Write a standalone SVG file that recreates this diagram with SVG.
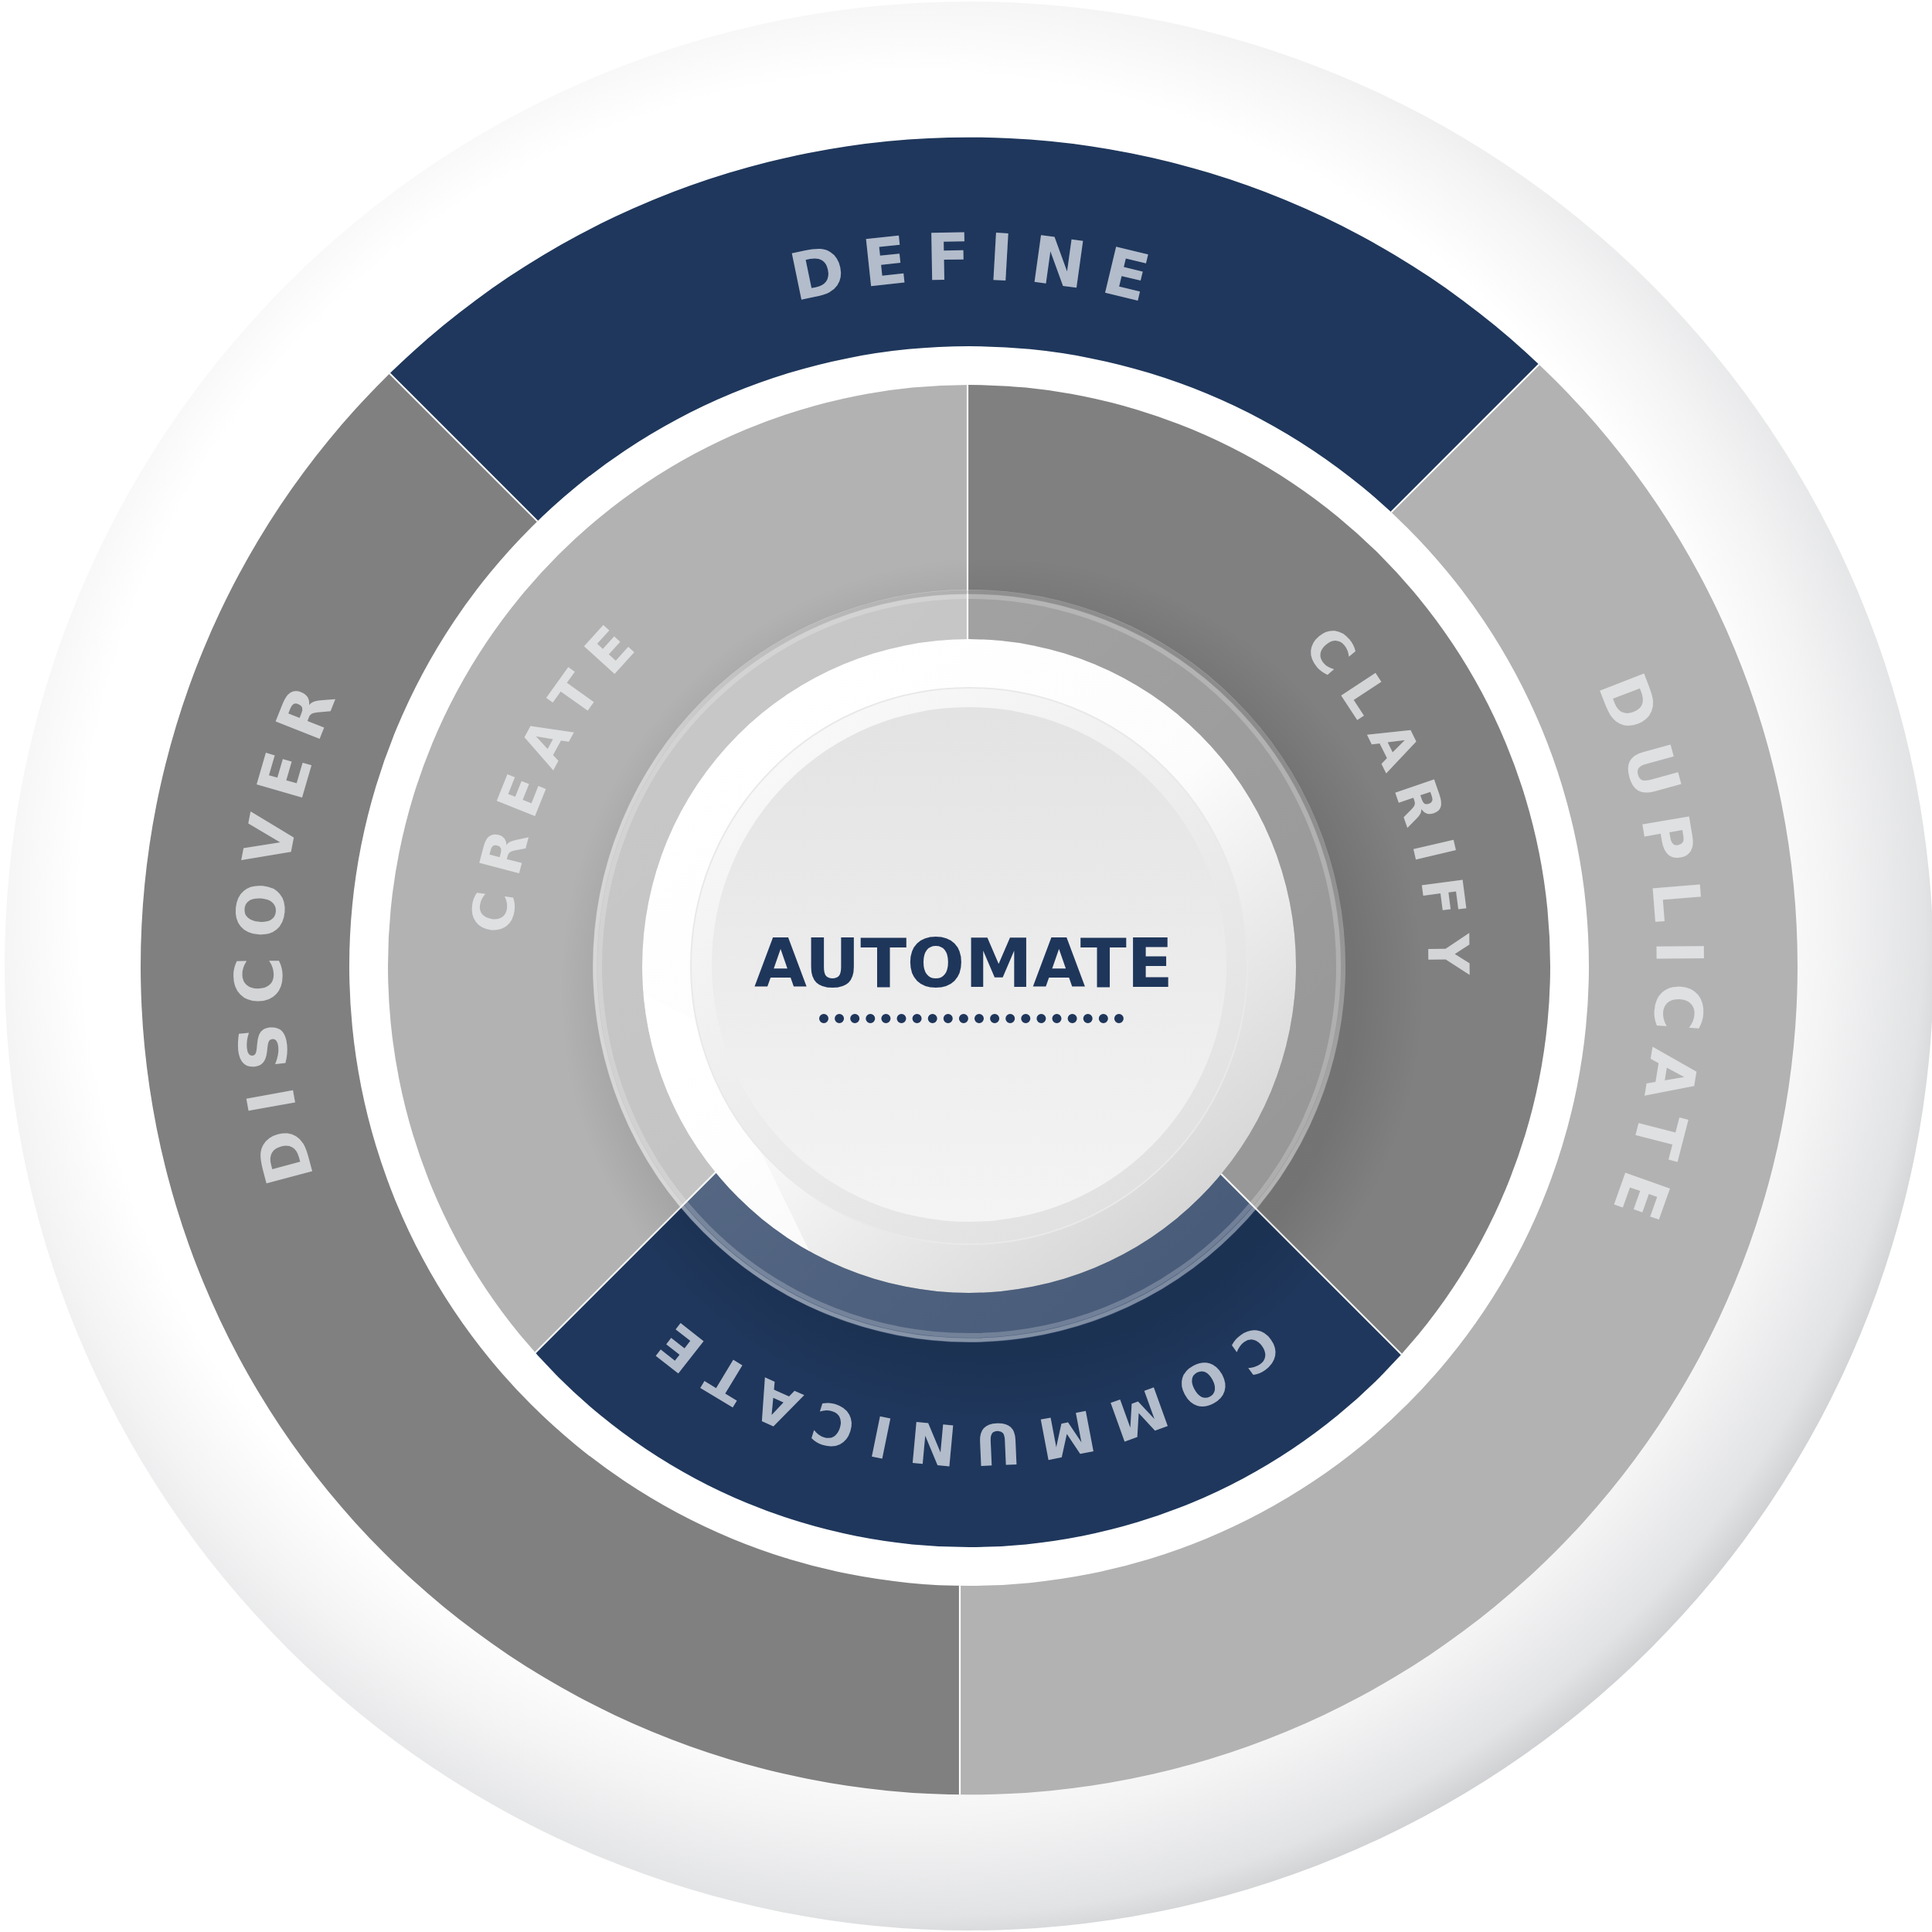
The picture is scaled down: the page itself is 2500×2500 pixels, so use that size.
<svg xmlns="http://www.w3.org/2000/svg" width="2500" height="2500" viewBox="0 0 2500 2500">
  <defs>
    <style>
      .lbl { font-family: "DejaVu Sans", "Open Sans", sans-serif; font-weight: 700; }
      .outer { font-size: 84px; letter-spacing: 22px; }
      .mid { font-size: 73px; letter-spacing: 20.5px; }
      .navy { fill: #1f375c; }
      .dark { fill: #808080; }
      .light { fill: #b2b2b2; }
      .t-navy { fill: #b3bccb; }
      .t-dark { fill: #d3d5d7; }
      .t-light { fill: #dfe0e2; }
      .divider { stroke: #ffffff; stroke-width: 2.2; fill: none; }
    </style>
    <radialGradient id="discGrad" gradientUnits="userSpaceOnUse" cx="1180" cy="1170" r="1380">
      <stop offset="0" stop-color="#ffffff"/>
      <stop offset="0.78" stop-color="#ffffff"/>
      <stop offset="0.86" stop-color="#f4f4f5"/>
      <stop offset="0.95" stop-color="#e2e3e4"/>
      <stop offset="1" stop-color="#c6c7ca"/>
    </radialGradient>
    <radialGradient id="shadowGrad" gradientUnits="userSpaceOnUse" cx="1284" cy="1280" r="560">
      <stop offset="0.84" stop-color="#000000" stop-opacity="0.1"/>
      <stop offset="1" stop-color="#000000" stop-opacity="0"/>
    </radialGradient>
    <linearGradient id="glassGrad" x1="0.15" y1="0.1" x2="0.9" y2="0.9">
      <stop offset="0" stop-color="#ffffff" stop-opacity="0.28"/>
      <stop offset="1" stop-color="#ffffff" stop-opacity="0.18"/>
    </linearGradient>
    <linearGradient id="rimGrad" x1="0.8" y1="0" x2="0.2" y2="1">
      <stop offset="0" stop-color="#000000" stop-opacity="0.14"/>
      <stop offset="0.5" stop-color="#ffffff" stop-opacity="0.25"/>
      <stop offset="1" stop-color="#ffffff" stop-opacity="0.35"/>
    </linearGradient>
    <linearGradient id="buttonGrad" x1="0.2" y1="0.12" x2="0.85" y2="0.92">
      <stop offset="0" stop-color="#ffffff"/>
      <stop offset="0.45" stop-color="#fcfcfc"/>
      <stop offset="1" stop-color="#d3d3d3"/>
    </linearGradient>
    <linearGradient id="ringGrad" x1="0.2" y1="0.1" x2="0.8" y2="0.95">
      <stop offset="0" stop-color="#f8f8f8"/>
      <stop offset="1" stop-color="#e0e0e0"/>
    </linearGradient>
    <linearGradient id="innerGrad" x1="0" y1="0" x2="0" y2="1">
      <stop offset="0" stop-color="#e3e3e3"/>
      <stop offset="1" stop-color="#f4f4f4"/>
    </linearGradient>
    <clipPath id="outerClip">
      <path clip-rule="evenodd" d="M2326,1250 A1072,1072 0 1 1 182,1250 A1072,1072 0 1 1 2326,1250 Z M2056,1250 A802,802 0 1 0 452,1250 A802,802 0 1 0 2056,1250 Z"/>
    </clipPath>
    <clipPath id="midClip">
      <circle cx="1254" cy="1250" r="752"/>
    </clipPath>
    <clipPath id="buttonClip">
      <circle cx="1254" cy="1250" r="423"/>
    </clipPath>
    <path id="arcDefine" d="M364.07,1238.97 A890,890 0 0 1 2143.93,1261.03"/>
    <path id="arcDiscover" d="M1203.39,2138.56 A890,890 0 0 1 1304.61,361.44"/>
    <path id="arcDuplicate" d="M1238.62,360.13 A890,890 0 0 1 1269.38,2139.87"/>
    <path id="arcCreate" d="M1005.02,1790.40 A595,595 0 0 1 1502.98,709.60"/>
    <path id="arcClarify" d="M1046.97,692.18 A595,595 0 0 1 1461.03,1807.82"/>
    <path id="arcCommunicate" d="M1848.91,1260.28 A595,595 0 0 1 659.09,1239.72"/>
  </defs>

  <rect width="2500" height="2500" fill="#ffffff"/>
  <g id="disc">
    <circle cx="1254" cy="1250" r="1248" fill="url(#discGrad)"/>
  </g>

  <g id="outer-ring">
    <g id="define">
      <polygon class="navy" clip-path="url(#outerClip)" points="1242,1221 -758,-779 3242,-779"/>
      <text class="lbl outer t-navy" text-anchor="middle"><textPath href="#arcDefine" startOffset="50%">DEFINE</textPath></text>
    </g>
    <g id="duplicate">
      <polygon class="light" clip-path="url(#outerClip)" points="1242,1221 3242,-779 3300,3000 1242,3000"/>
      <text class="lbl outer t-light" text-anchor="middle"><textPath href="#arcDuplicate" startOffset="50%">DUPLICATE</textPath></text>
    </g>
    <g id="discover">
      <polygon class="dark" clip-path="url(#outerClip)" points="1242,1221 1242,3000 -800,3000 -758,-779"/>
      <text class="lbl outer t-dark" text-anchor="middle"><textPath href="#arcDiscover" startOffset="50%">DISCOVER</textPath></text>
    </g>
  </g>

  <g id="middle-ring">
    <g id="create">
      <polygon class="light" clip-path="url(#midClip)" points="1252,1191 -748,3191 -800,-900 1252,-900"/>
      <text class="lbl mid t-light" text-anchor="middle"><textPath href="#arcCreate" startOffset="50%">CREATE</textPath></text>
    </g>
    <g id="clarify">
      <polygon class="dark" clip-path="url(#midClip)" points="1252,1191 1252,-900 3300,-900 3252,3191"/>
      <text class="lbl mid t-dark" text-anchor="middle"><textPath href="#arcClarify" startOffset="50%">CLARIFY</textPath></text>
    </g>
    <g id="communicate">
      <polygon class="navy" clip-path="url(#midClip)" points="1252,1191 3252,3191 -748,3191"/>
      <text class="lbl mid t-navy" text-anchor="middle"><textPath href="#arcCommunicate" startOffset="50%">COMMUNICATE</textPath></text>
    </g>
  </g>

  <g id="connectors">
    <g clip-path="url(#outerClip)">
      <line class="divider" x1="1242" y1="1221" x2="-758" y2="-779"/>
      <line class="divider" x1="1242" y1="1221" x2="3242" y2="-779"/>
      <line class="divider" x1="1242" y1="1221" x2="1242" y2="3000"/>
    </g>
    <g clip-path="url(#midClip)">
      <line class="divider" x1="1252" y1="1191" x2="-748" y2="3191"/>
      <line class="divider" x1="1252" y1="1191" x2="3252" y2="3191"/>
      <line class="divider" x1="1252" y1="1191" x2="1252" y2="-900"/>
    </g>
  </g>

  <g id="automate">
    <path clip-path="url(#midClip)" fill="url(#shadowGrad)" fill-rule="evenodd" d="M1854,1250 A600,600 0 1 1 654,1250 A600,600 0 1 1 1854,1250 Z M1741,1250 A487,487 0 1 0 767,1250 A487,487 0 1 0 1741,1250 Z"/>
    <path fill="url(#glassGrad)" fill-rule="evenodd" d="M1741,1250 A487,487 0 1 1 767,1250 A487,487 0 1 1 1741,1250 Z M1677,1250 A423,423 0 1 0 831,1250 A423,423 0 1 0 1677,1250 Z"/>
    <circle cx="1254" cy="1250" r="484" fill="none" stroke="url(#rimGrad)" stroke-width="5"/>
    <circle cx="1254" cy="1250" r="478" fill="none" stroke="#ffffff" stroke-opacity="0.22" stroke-width="6"/>
    <circle cx="1254" cy="1250" r="423" fill="url(#buttonGrad)"/>
    <polygon clip-path="url(#buttonClip)" fill="#ffffff" fill-opacity="0.7" points="1100,1730 1069,1663 981,1483 900,1320 760,1250 760,1730"/>
    <circle cx="1254" cy="1250" r="360" fill="url(#ringGrad)" stroke="#e9e9e9" stroke-width="2"/>
    <circle cx="1254" cy="1248" r="333" fill="url(#innerGrad)"/>
    <text x="1247" y="1277" text-anchor="middle" font-family="DejaVu Sans, Open Sans, sans-serif" font-weight="700" font-size="88" fill="#1f365b" textLength="542" lengthAdjust="spacing">AUTOMATE</text>
    <line x1="1066" y1="1318" x2="1450" y2="1318" stroke="#1f365b" stroke-width="12" stroke-linecap="round" stroke-dasharray="0 20.1"/>
  </g>
</svg>
